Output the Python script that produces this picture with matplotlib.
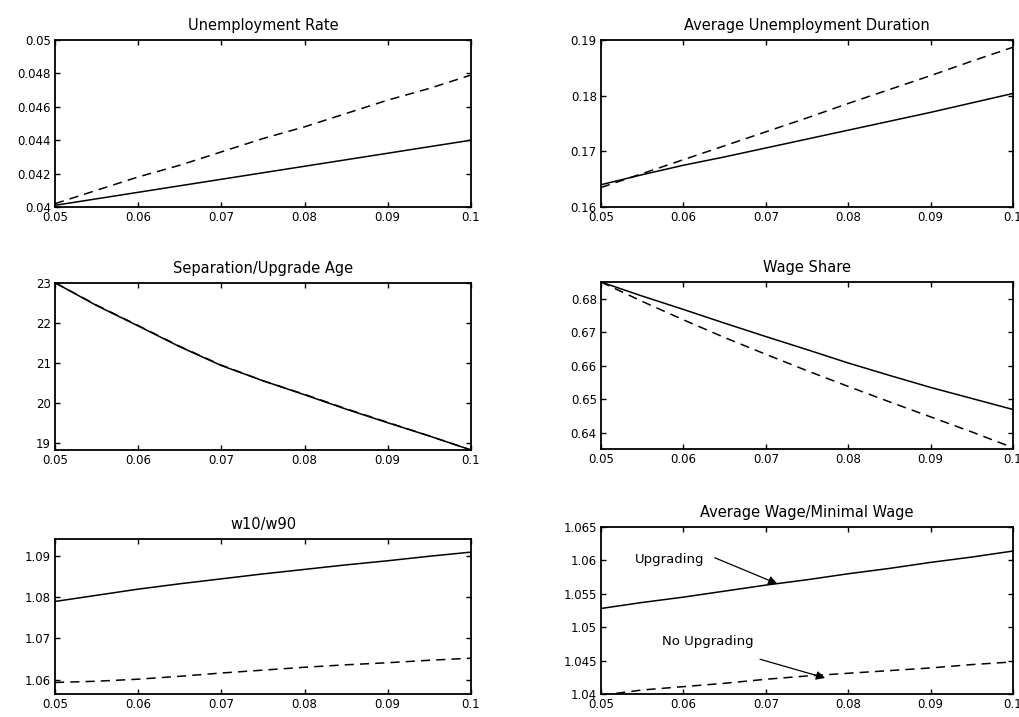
import matplotlib
matplotlib.use("Agg")
import matplotlib.pyplot as plt

plt.rcParams['font.family'] = ['DejaVu Sans']

# shared x grid (separation rate)
x = [0.05, 0.055, 0.06, 0.065, 0.07, 0.075, 0.08, 0.085, 0.09, 0.095, 0.10]
xticks = [0.05, 0.06, 0.07, 0.08, 0.09, 0.1]
xticklabels = ["0.05", "0.06", "0.07", "0.08", "0.09", "0.1"]

# Unemployment Rate
unemp_up = [0.04010, 0.04049, 0.04088, 0.04127, 0.04166, 0.04205, 0.04244, 0.04283, 0.04322, 0.04361, 0.04400]
unemp_no = [0.0402, 0.0410, 0.0418, 0.0425, 0.0433, 0.0441, 0.0448, 0.0456, 0.0464, 0.0471, 0.0479]

# Average Unemployment Duration
dur_up = [0.1640, 0.1658, 0.1675, 0.1690, 0.1706, 0.1722, 0.1738, 0.1754, 0.1770, 0.1787, 0.1804]
dur_no = [0.1635, 0.1660, 0.1685, 0.1710, 0.1735, 0.1760, 0.1786, 0.1811, 0.1836, 0.1862, 0.1887]

# Separation/Upgrade Age
age_up = [23.0, 22.43, 21.92, 21.40, 20.93, 20.55, 20.20, 19.84, 19.50, 19.17, 18.82]
age_no = [23.0, 22.44, 21.93, 21.41, 20.94, 20.55, 20.21, 19.85, 19.51, 19.17, 18.82]

# Wage Share
ws_up = [0.6850, 0.6808, 0.6768, 0.6727, 0.6687, 0.6648, 0.6608, 0.6571, 0.6535, 0.6502, 0.6469]
ws_no = [0.6850, 0.6792, 0.6737, 0.6684, 0.6634, 0.6585, 0.6538, 0.6492, 0.6447, 0.6402, 0.6355]

# w10/w90
w_up = [1.0790, 1.0805, 1.0820, 1.0833, 1.0845, 1.0857, 1.0868, 1.0879, 1.0889, 1.0900, 1.0910]
w_no = [1.0593, 1.0596, 1.0601, 1.0608, 1.0616, 1.0623, 1.0630, 1.0636, 1.0641, 1.0647, 1.0652]

# Average Wage/Minimal Wage
am_up = [1.0528, 1.0537, 1.0545, 1.0554, 1.0563, 1.0571, 1.0580, 1.0588, 1.0597, 1.0605, 1.0614]
am_no = [1.0398, 1.0406, 1.0411, 1.0416, 1.0422, 1.0427, 1.0431, 1.0435, 1.0439, 1.0444, 1.0448]

panels = [
    ("Unemployment Rate", unemp_up, unemp_no, (0.04, 0.05),
     [0.04, 0.042, 0.044, 0.046, 0.048, 0.05], ["0.04", "0.042", "0.044", "0.046", "0.048", "0.05"],
     [0.0539, 0.7113, 0.4078, 0.2329]),
    ("Average Unemployment Duration", dur_up, dur_no, (0.16, 0.19),
     [0.16, 0.17, 0.18, 0.19], ["0.16", "0.17", "0.18", "0.19"],
     [0.5892, 0.7113, 0.4039, 0.2329]),
    ("Separation/Upgrade Age", age_up, age_no, (18.82, 23.0),
     [19, 20, 21, 22, 23], ["19", "20", "21", "22", "23"],
     [0.0539, 0.3724, 0.4078, 0.2333]),
    ("Wage Share", ws_up, ws_no, (0.6351, 0.685),
     [0.64, 0.65, 0.66, 0.67, 0.68], ["0.64", "0.65", "0.66", "0.67", "0.68"],
     [0.5892, 0.3738, 0.4039, 0.2329]),
    ("w10/w90", w_up, w_no, (1.0565, 1.0942),
     [1.06, 1.07, 1.08, 1.09], ["1.06", "1.07", "1.08", "1.09"],
     [0.0539, 0.0321, 0.4078, 0.2162]),
    ("Average Wage/Minimal Wage", am_up, am_no, (1.04, 1.065),
     [1.04, 1.045, 1.05, 1.055, 1.06, 1.065], ["1.04", "1.045", "1.05", "1.055", "1.06", "1.065"],
     [0.5892, 0.0321, 0.4039, 0.2329]),
]

fig = plt.figure(figsize=(10.2, 7.17), dpi=100)
axes = []
for title, up, no, ylim, yt, ytl, pos in panels:
    ax = fig.add_axes(pos)
    ax.plot(x, up, color='k', lw=1.1, solid_capstyle='butt')
    ax.plot(x, no, color='k', lw=1.1, linestyle=(0, (6, 4)))
    ax.set_xlim(0.05, 0.1)
    ax.set_ylim(*ylim)
    ax.set_xticks(xticks)
    ax.set_xticklabels(xticklabels)
    ax.set_yticks(yt)
    ax.set_yticklabels(ytl)
    ax.tick_params(direction='in', top=True, right=True, length=3.5, width=1,
                   labelsize=8.5)
    ax.tick_params(axis='x', pad=3)
    ax.tick_params(axis='y', pad=3)
    for s in ax.spines.values():
        s.set_linewidth(1.3)
    ax.set_title(title, fontsize=10.5, pad=7)
    axes.append(ax)

ax = axes[5]
ax.text(0.0541, 1.0601, "Upgrading", fontsize=9.5, va='center', ha='left')
ax.annotate("", xy=(0.0714, 1.0565), xytext=(0.0638, 1.0604),
            arrowprops=dict(arrowstyle='-|>', color='k', lw=0.9, mutation_scale=13,
                            shrinkA=0, shrinkB=0))
ax.text(0.0574, 1.0478, "No Upgrading", fontsize=9.5, va='center', ha='left')
ax.annotate("", xy=(0.0772, 1.0424), xytext=(0.0693, 1.0452),
            arrowprops=dict(arrowstyle='-|>', color='k', lw=0.9, mutation_scale=13,
                            shrinkA=0, shrinkB=0))

fig.savefig("out.png", dpi=100)
